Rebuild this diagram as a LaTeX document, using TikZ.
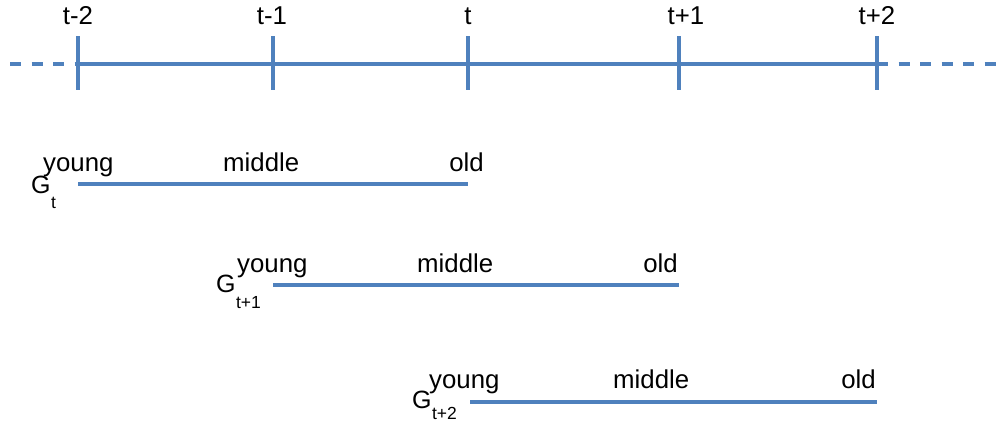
\documentclass[tikz,border=0pt]{standalone}
\usepackage{fontspec}
\setmainfont{Liberation Sans}
\usetikzlibrary{calc}

\definecolor{lineblue}{RGB}{79,129,189}
\tikzset{
    axisline/.style={lineblue, line width=3.2pt},
    dashline/.style={axisline, dash pattern=on 11pt off 10.5pt},
    genline/.style={lineblue, line width=3.2pt},
    lbl/.style={inner sep=0pt, font=\fontsize{25.8}{30}\selectfont},
    glbl/.style={inner sep=0pt, font=\fontsize{25}{30}\selectfont},
    sublbl/.style={inner sep=0pt, font=\fontsize{17.5}{20}\selectfont}
}

\begin{document}
\begin{tikzpicture}[x=1pt,y=-1pt]
            \useasboundingbox (0,0) rectangle (1002,423);

            \coordinate (L) at (10,64);
            \coordinate (R) at (1002,64);

            \foreach \n/\x/\lx/\txt in {A/78/78/t-2, B/273/272/t-1, C/468/468/t, D/679/686/t+1, E/877/877/t+2}
                {
                    \coordinate (\n) at (\x,64);
                    \coordinate (\n top) at (\x,36);
                    \coordinate (\n bot) at (\x,90);
                    \draw [axisline] (\n top) -- (\n bot);
                    \node [lbl, anchor=base] (\n lab) at (\lx,24) {\txt};
                }

                \draw [axisline] (A) -- (E);
                \draw [dashline] (L) -- (A);
                \draw [dashline] (E) -- (R);

            \foreach \r/\xa/\xb/\yl/\yt/\gx/\gy/\sub/\sy/\yx/\mx/\ox in {P/78/468/184/171/31/193/t/15/43/223/484, Q/273/679/285/272/216/292/t+1/16/237/417/678, S/470/877/402/388/412/408/t+2/11/429/613/876}
                {
                    \coordinate (\r start) at (\xa,\yl);
                    \coordinate (\r end) at (\xb,\yl);
                    \draw [genline] (\r start) -- (\r end);
                    \node [glbl, anchor=base west] (\r G) at (\gx,\gy) {G};
                    \node [sublbl, anchor=base west] (\r sub) at ($(\r G.base east) + (0,\sy)$) {\sub};
                    \node [lbl, anchor=base west] (\r young) at (\yx,\yt) {young};
                    \node [lbl, anchor=base west] (\r middle) at (\mx,\yt) {middle};
                    \node [lbl, anchor=base east] (\r old) at (\ox,\yt) {old};
                }

        \end{tikzpicture}
\end{document}
